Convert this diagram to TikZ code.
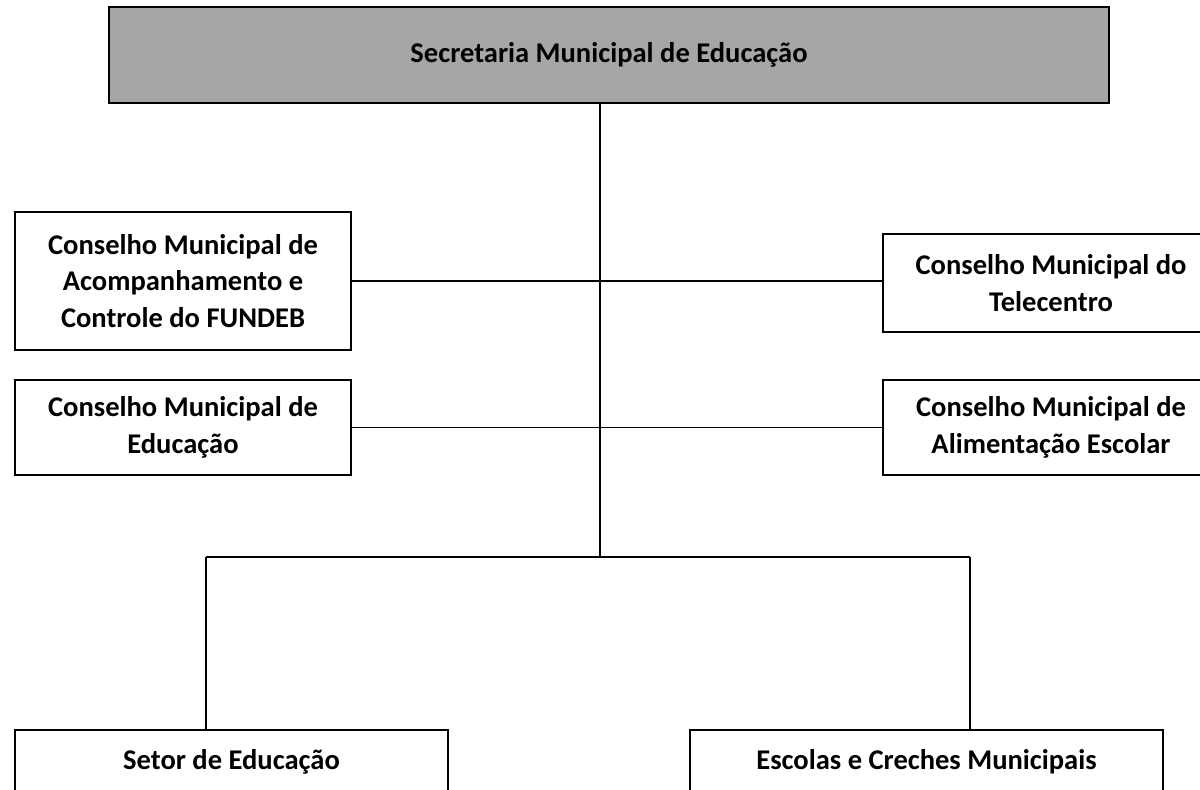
\documentclass[tikz,border=0pt]{standalone}
\usepackage{fontspec}
\setmainfont{Carlito}
\definecolor{secgray}{HTML}{A6A6A6}
\begin{document}
\begin{tikzpicture}[x=0.025cm, y=-0.025cm]
            \tikzstyle{box}=[draw=black, line width=1.4pt, fill=white, align=center, inner sep=0pt, font=\fontsize{20.3}{26.2}\selectfont\bfseries]
            \tikzstyle{link}=[black, line width=1pt]
            \clip (0, 0) rectangle (1200, 789);
            \node [box, fill=secgray, minimum width=25cm, minimum height=2.4cm] (sec) at (609, 55) {Secretaria Municipal de Educação};
            \node [box, minimum width=8.4cm, minimum height=3.45cm] (fundeb) at (183, 281) {Conselho Municipal de\\Acompanhamento e\\Controle do FUNDEB};
            \node [box, minimum width=8.4cm, minimum height=2.375cm] (educ) at (183, 427.5) {Conselho Municipal de\\Educação};
            \node [box, minimum width=8.4cm, minimum height=2.45cm] (tele) at (1051, 283) {Conselho Municipal do\\Telecentro};
            \node [box, minimum width=8.4cm, minimum height=2.375cm] (alim) at (1051, 427.5) {Conselho Municipal de\\Alimentação Escolar};
            \node [box, minimum width=10.825cm, minimum height=1.6cm] (setor) at (231.5, 762) {Setor de Educação};
            \node [box, minimum width=11.825cm, minimum height=1.6cm] (escolas) at (926.5, 762) {Escolas e Creches Municipais};
            \coordinate (hub) at (600, 557);
            \coordinate (jl) at (206, 557);
            \coordinate (jr) at (970, 557);
            \draw [link] (hub |- sec.south) -- (hub);
            \draw [link] (fundeb.east) -- (fundeb.east -| tele.west);
            \draw [link] (educ.east) -- (alim.west);
            \draw [link] (jl) -- (jr);
            \draw [link] (jl) -- (jl |- setor.north);
            \draw [link] (jr) -- (jr |- escolas.north);
        \end{tikzpicture}
\end{document}
